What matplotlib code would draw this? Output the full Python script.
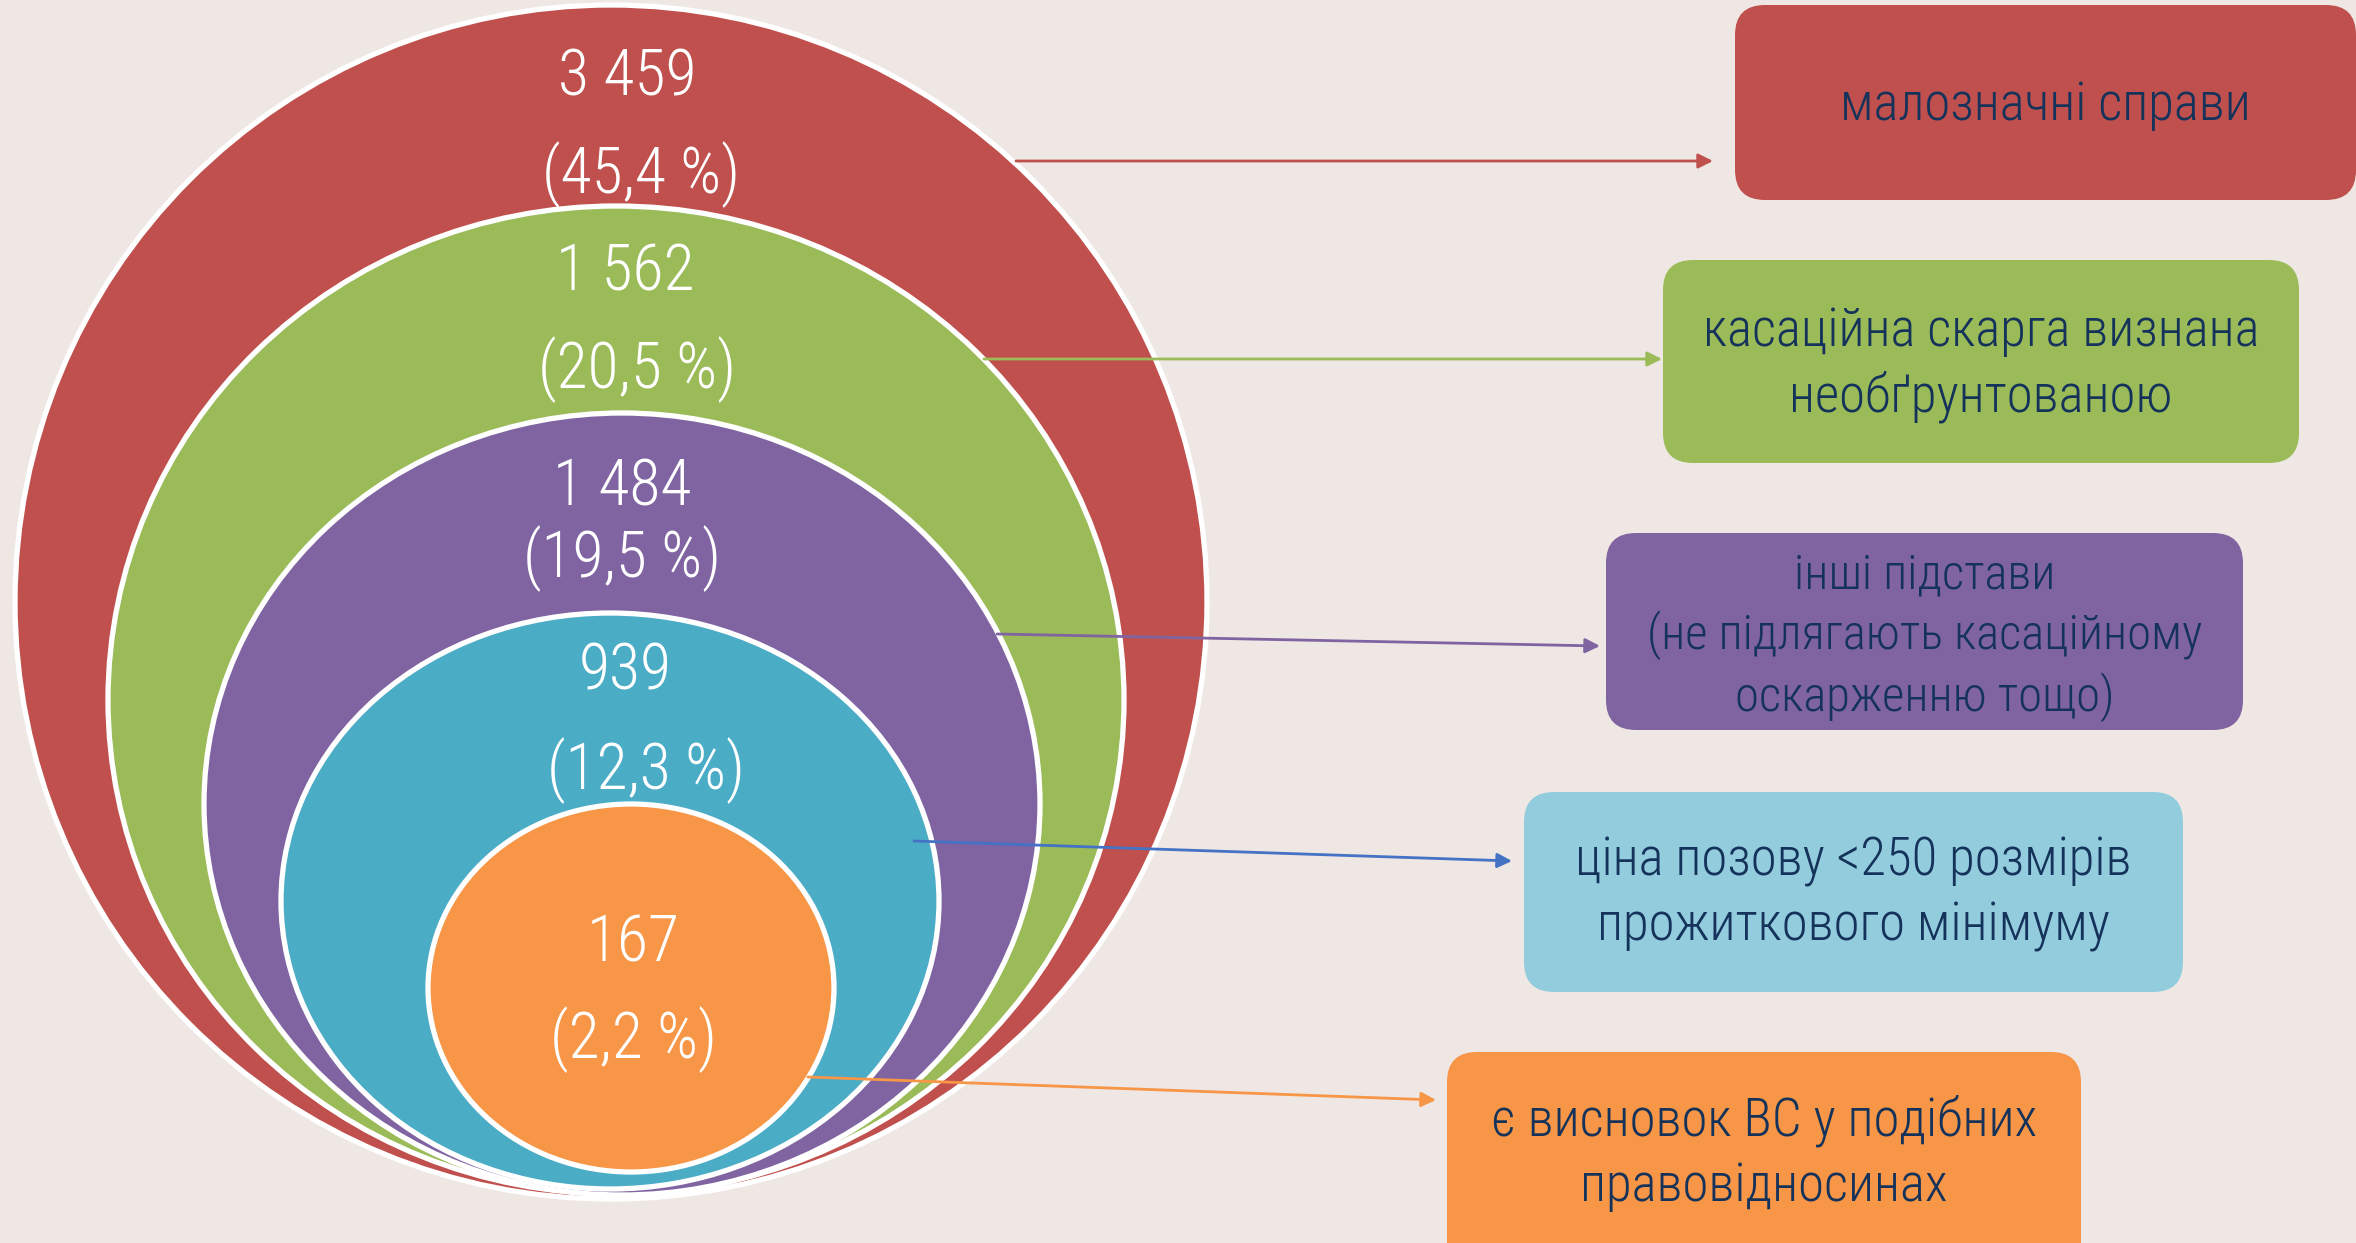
import matplotlib
matplotlib.use("Agg")
import matplotlib.pyplot as plt
from matplotlib.patches import Ellipse, FancyBboxPatch

plt.rcParams["font.family"] = ["Roboto Condensed", "Roboto", "DejaVu Sans"]

# data
counts = [3459, 1562, 1484, 939, 167]
shares = [45.4, 20.5, 19.5, 12.3, 2.2]
reasons = [
    "малозначні справи",
    "касаційна скарга визнана\nнеобґрунтованою",
    "інші підстави\n(не підлягають касаційному\nоскарженню тощо)",
    "ціна позову <250 розмірів\nпрожиткового мінімуму",
    "є висновок ВС у подібних\nправовідносинах",
]

# layout (pixels, y downwards)
ell_cx = [611, 616, 622, 610, 631]
ell_cy = [602, 700, 804, 901, 988]
ell_w = [1192, 1016, 836, 658, 406]
ell_h = [1194, 988, 782, 576, 368]
num_y = [77, 272, 487, 671, 943]
pct_y = [175, 370, 559, 771, 1040]
num_x = [627, 625, 622, 625, 633]
pct_x = [641, 637, 622, 646, 633]
box_x0 = [1735, 1663, 1606, 1524, 1447]
box_x1 = [2356, 2299, 2243, 2183, 2081]
box_y0 = [5, 260, 533, 792, 1052]
box_y1 = [200, 463, 730, 992, 1290]
text_y = [105, 364, 637, 894, 1153]
text_size = [38, 38, 35, 38, 38]
arr_start = [(1016, 161), (984, 359), (997, 634), (914, 841), (808, 1077)]
arr_end = [(1713, 161), (1662, 359), (1600, 646), (1512, 861), (1436, 1100)]

fills = ["#C0504D", "#9BBB59", "#8064A2", "#4BACC6", "#F79646"]
box_fills = ["#C0504D", "#9BBB59", "#8064A2", "#93CDDD", "#F79646"]
arrow_cols = ["#C0504D", "#9BBB59", "#8064A2", "#4472C4", "#F79646"]
bg = "#EFE7E3"
navy = "#14325A"

fig = plt.figure(figsize=(23.56, 12.43), dpi=100, facecolor=bg)
ax = fig.add_axes([0, 0, 1, 1])
ax.set_facecolor(bg)
ax.set_xlim(0, 2356)
ax.set_ylim(1243, 0)
ax.axis("off")

for i in range(len(counts)):
    ax.add_patch(Ellipse((ell_cx[i], ell_cy[i]), ell_w[i], ell_h[i],
                         facecolor=fills[i], edgecolor="white", lw=3.8, zorder=1 + i))
    ax.text(num_x[i], num_y[i], f"{counts[i]:,}".replace(",", " "), color="white",
            fontsize=46, fontweight="light", ha="center", va="center", zorder=10)
    ax.text(pct_x[i], pct_y[i], "(" + f"{shares[i]:.1f}".replace(".", ",") + " %)", color="white",
            fontsize=46, fontweight="light", ha="center", va="center", zorder=10)

for i in range(len(reasons)):
    ax.add_patch(FancyBboxPatch((box_x0[i], box_y0[i]), box_x1[i] - box_x0[i], box_y1[i] - box_y0[i],
                                boxstyle="round,pad=0,rounding_size=30",
                                facecolor=box_fills[i], edgecolor="none", zorder=5))
    ax.text((box_x0[i] + box_x1[i]) / 2, text_y[i], reasons[i], color=navy,
            fontsize=text_size[i], fontweight="light", ha="center", va="center",
            linespacing=1.31 if text_size[i] < 38 else 1.33, zorder=10)
    ax.annotate("", xy=arr_end[i], xytext=arr_start[i],
                arrowprops=dict(arrowstyle="-|>", color=arrow_cols[i], lw=2,
                                mutation_scale=22, shrinkA=0, shrinkB=0), zorder=12)

fig.savefig("out.png", dpi=100, facecolor=bg)
